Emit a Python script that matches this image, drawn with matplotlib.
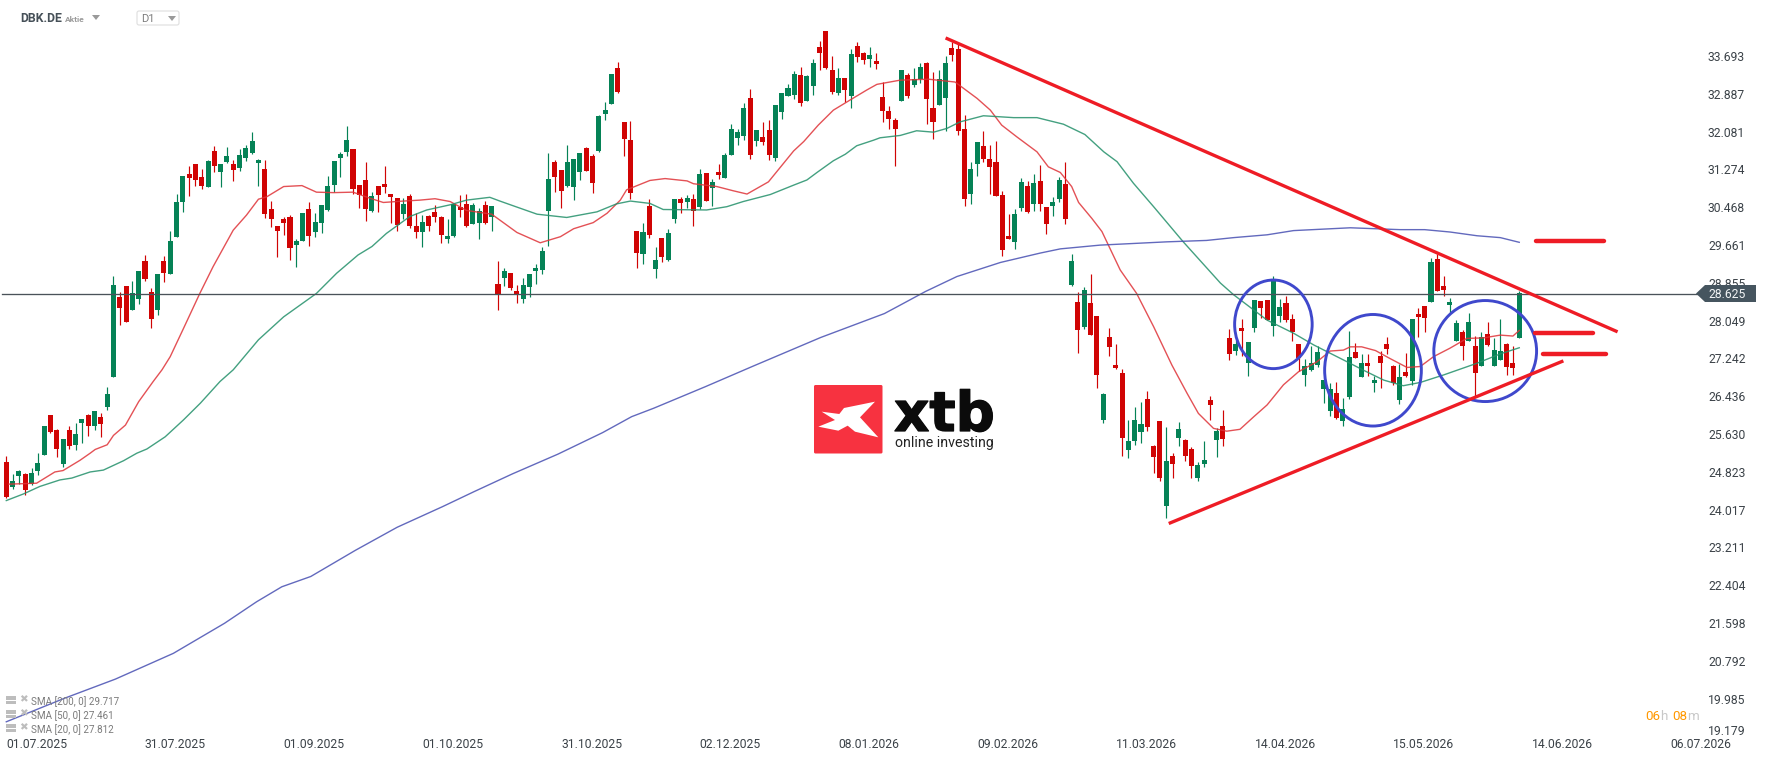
import matplotlib
matplotlib.use("Agg")
import matplotlib.pyplot as plt
import matplotlib.patheffects as pe
import numpy as np
from matplotlib.patches import Ellipse, FancyBboxPatch, Polygon, Rectangle
from matplotlib.transforms import Affine2D

plt.rcParams['font.family'] = ['Roboto', 'DejaVu Sans']

opens = [25.03, 24.50, 24.73, 24.78, 24.56, 24.84, 25.18, 26.04, 25.72, 24.99,
         25.72, 25.39, 25.86, 26.04, 25.80, 25.99, 26.21, 26.85, 28.55, 28.79,
         28.28, 28.51, 29.32, 28.66, 28.28, 29.32, 29.04, 29.83, 30.58, 31.18,
         31.39, 31.11, 30.90, 31.67, 31.22, 31.43, 31.39, 31.31, 31.52, 31.63,
         31.41, 31.28, 30.43, 30.07, 30.22, 30.26, 29.66, 29.75, 30.43, 29.94,
         30.13, 30.41, 30.94, 31.52, 31.65, 31.71, 30.94, 31.05, 30.39, 30.92,
         30.96, 30.75, 30.66, 30.32, 30.71, 30.07, 29.94, 30.28, 30.37, 30.26,
         29.79, 29.86, 30.47, 30.54, 30.11, 30.13, 30.52, 30.26, 28.83, 28.96,
         29.07, 28.68, 28.51, 28.77, 29.11, 29.13, 30.39, 31.43, 31.26, 30.92,
         30.90, 31.22, 31.73, 31.56, 31.67, 32.46, 32.67, 33.44, 32.29, 31.90,
         29.96, 29.47, 30.50, 29.15, 29.81, 29.34, 30.22, 30.64, 30.58, 30.64,
         30.47, 31.20, 30.88, 31.22, 31.09, 31.58, 31.95, 31.99, 32.80, 31.88,
         31.97, 32.12, 31.52, 32.50, 32.84, 32.86, 33.29, 32.73, 33.06, 33.89,
         34.23, 33.40, 32.91, 33.23, 32.84, 33.91, 33.76, 33.63, 33.59, 32.82,
         32.52, 32.33, 32.73, 33.29, 33.08, 33.20, 33.55, 32.59, 32.65, 32.80,
         33.87, 33.85, 32.14, 30.75, 31.39, 31.78, 31.50, 31.43, 30.73, 29.86,
         29.73, 30.45, 30.92, 30.54, 31.03, 30.47, 30.50, 30.64, 30.96, 28.81,
         28.45, 27.91, 28.42, 28.15, 25.93, 27.70, 27.10, 26.93, 25.29, 25.48,
         25.67, 26.38, 25.37, 25.91, 24.09, 25.16, 25.55, 25.50, 25.31, 24.69,
         24.99, 26.36, 25.50, 25.80, 27.68, 27.40, 27.89, 27.15, 27.89, 28.47,
         28.49, 27.94, 28.15, 28.43, 28.08, 27.55, 26.89, 27.00, 27.10, 26.59,
         26.12, 26.50, 25.91, 26.42, 27.38, 26.85, 27.15, 26.72, 27.29, 27.55,
         27.08, 26.36, 26.95, 26.76, 28.19, 28.36, 28.45, 29.36, 28.79, 28.38,
         27.62, 27.81, 27.62, 27.51, 27.08, 27.76, 27.08, 27.20, 27.55, 27.14, 27.68]
closes = [24.29, 24.63, 24.84, 24.44, 24.80, 25.01, 25.80, 25.67, 25.31, 25.52,
          25.37, 25.63, 25.95, 25.80, 26.12, 25.84, 26.48, 28.81, 28.32, 28.02,
          28.63, 29.11, 28.94, 28.08, 29.04, 29.07, 29.75, 30.58, 31.13, 31.09,
          31.05, 30.92, 31.46, 31.35, 31.39, 31.56, 31.26, 31.58, 31.73, 31.88,
          31.48, 30.32, 30.22, 29.96, 30.13, 29.60, 29.75, 30.35, 29.86, 30.15,
          30.52, 30.92, 31.46, 31.60, 31.90, 30.86, 30.73, 30.43, 30.71, 30.73,
          30.90, 30.69, 30.09, 30.54, 30.07, 29.94, 30.15, 30.07, 30.26, 29.88,
          29.86, 30.54, 30.41, 30.07, 30.52, 30.39, 30.13, 30.50, 28.60, 29.11,
          28.75, 28.60, 28.81, 29.04, 29.17, 29.53, 31.07, 31.11, 30.82, 31.43,
          31.50, 31.63, 31.24, 30.99, 32.41, 32.54, 33.31, 32.93, 31.92, 30.77,
          29.49, 29.94, 29.88, 29.34, 29.41, 29.92, 30.64, 30.56, 30.66, 30.39,
          31.18, 30.60, 31.01, 31.16, 31.58, 32.14, 32.07, 32.59, 31.58, 32.12,
          31.86, 31.58, 32.65, 32.90, 33.01, 33.31, 32.69, 33.27, 33.55, 33.76,
          33.44, 32.93, 33.23, 32.97, 33.74, 33.67, 33.61, 33.72, 33.53, 32.52,
          32.35, 32.14, 33.40, 32.84, 33.20, 33.46, 32.78, 32.29, 33.20, 33.55,
          33.72, 32.10, 30.64, 31.28, 31.86, 31.50, 31.33, 30.71, 29.56, 29.79,
          30.32, 31.01, 30.37, 30.99, 30.54, 30.11, 30.58, 31.05, 30.22, 29.32,
          27.85, 28.70, 27.74, 26.89, 26.48, 27.49, 27.04, 25.55, 25.48, 25.93,
          25.84, 25.78, 25.14, 24.69, 25.05, 24.99, 25.74, 25.16, 24.95, 24.97,
          25.08, 26.25, 25.69, 25.52, 27.34, 27.55, 27.83, 27.59, 28.49, 28.32,
          28.06, 28.94, 28.34, 28.06, 27.81, 27.25, 27.08, 27.15, 27.38, 26.78,
          26.59, 25.97, 26.16, 27.27, 27.25, 27.15, 27.08, 26.78, 27.15, 27.44,
          26.72, 26.85, 26.87, 28.08, 28.13, 28.11, 29.30, 28.68, 28.70, 28.45,
          28.00, 27.51, 28.02, 26.93, 27.70, 27.53, 27.42, 27.40, 27.07, 27.03, 28.63]
highs = [25.16, 24.78, 24.86, 24.80, 24.90, 25.23, 25.80, 26.04, 25.74, 25.52,
         25.80, 25.86, 25.95, 26.06, 26.12, 26.08, 26.63, 29.00, 28.66, 28.79,
         28.90, 29.11, 29.45, 28.75, 29.04, 29.43, 29.96, 30.75, 31.13, 31.35,
         31.39, 31.28, 31.48, 31.77, 31.39, 31.75, 31.48, 31.71, 31.80, 32.07,
         31.50, 31.48, 30.60, 30.07, 30.26, 30.30, 29.79, 30.35, 30.58, 30.35,
         30.52, 31.13, 31.46, 31.65, 32.20, 31.71, 30.94, 31.43, 30.79, 30.92,
         31.35, 30.75, 30.66, 30.66, 30.75, 30.35, 30.30, 30.30, 30.52, 30.28,
         30.22, 30.54, 30.73, 30.75, 30.56, 30.45, 30.60, 30.50, 29.32, 29.17,
         29.07, 28.81, 28.96, 29.04, 29.26, 29.62, 31.63, 31.48, 31.26, 31.80,
         31.50, 31.63, 31.75, 31.60, 32.44, 32.71, 33.31, 33.57, 32.29, 32.31,
         29.96, 30.13, 30.64, 29.62, 29.81, 30.00, 30.64, 30.69, 30.73, 30.75,
         31.28, 31.20, 31.07, 31.39, 31.63, 32.24, 32.14, 32.69, 33.00, 32.12,
         32.29, 32.33, 32.65, 32.90, 33.10, 33.38, 33.46, 33.29, 33.63, 34.02,
         34.23, 33.70, 33.44, 33.23, 33.84, 34.00, 33.78, 33.89, 33.76, 33.14,
         32.63, 32.37, 33.40, 33.33, 33.44, 33.55, 33.57, 33.35, 33.40, 33.70,
         34.00, 33.95, 32.44, 31.43, 31.86, 32.10, 31.80, 31.88, 30.81, 30.32,
         30.43, 31.09, 31.03, 31.18, 31.37, 30.47, 30.69, 31.11, 31.43, 29.47,
         28.66, 28.77, 29.04, 28.15, 26.51, 27.89, 27.55, 27.02, 25.93, 26.21,
         26.31, 26.55, 25.40, 25.91, 25.78, 25.22, 25.89, 25.52, 25.35, 25.03,
         25.48, 26.44, 25.76, 26.14, 27.87, 27.63, 28.08, 27.59, 28.49, 28.47,
         28.49, 29.00, 28.51, 28.58, 28.19, 27.55, 27.23, 27.51, 27.51, 26.78,
         26.72, 26.74, 26.40, 27.83, 27.57, 27.34, 27.34, 26.87, 27.40, 27.70,
         27.10, 27.12, 27.36, 28.08, 28.32, 28.36, 29.39, 29.47, 29.00, 28.53,
         28.06, 27.85, 28.21, 27.72, 27.81, 28.02, 27.68, 28.08, 27.57, 27.51, 28.68]
lows = [24.27, 24.46, 24.56, 24.33, 24.54, 24.75, 25.18, 25.65, 25.14, 24.93,
        25.31, 25.29, 25.44, 25.59, 25.72, 25.57, 26.14, 26.85, 27.96, 28.02,
        28.28, 28.40, 28.89, 27.89, 28.17, 28.87, 29.04, 29.83, 30.37, 30.71,
        30.92, 30.86, 30.90, 31.22, 30.90, 31.41, 31.03, 31.24, 31.46, 31.60,
        30.92, 30.24, 30.05, 29.41, 29.88, 29.34, 29.19, 29.75, 29.64, 29.83,
        29.92, 30.39, 30.79, 31.11, 31.56, 30.75, 30.45, 30.17, 30.37, 30.37,
        30.77, 30.13, 29.96, 30.22, 30.03, 29.81, 29.62, 29.96, 30.15, 29.71,
        29.71, 29.83, 30.26, 30.05, 30.11, 29.79, 30.11, 29.96, 28.28, 28.79,
        28.70, 28.43, 28.43, 28.55, 28.83, 29.04, 29.64, 30.79, 30.45, 30.90,
        30.62, 31.05, 31.24, 30.77, 31.65, 32.33, 32.67, 32.91, 31.56, 30.64,
        29.17, 29.26, 29.81, 28.96, 29.30, 29.32, 30.13, 30.35, 30.45, 30.07,
        30.43, 30.60, 30.50, 31.07, 31.09, 31.58, 31.80, 31.90, 31.50, 31.78,
        31.80, 31.48, 31.46, 32.35, 32.84, 32.78, 32.63, 32.73, 32.86, 33.40,
        33.42, 32.88, 32.86, 32.71, 32.59, 33.57, 33.53, 33.46, 33.42, 32.29,
        32.14, 31.35, 32.73, 32.80, 33.03, 33.12, 32.25, 31.92, 32.65, 32.10,
        33.59, 32.01, 30.50, 30.54, 31.13, 31.43, 30.75, 30.71, 29.43, 29.79,
        29.58, 30.39, 30.35, 30.39, 30.39, 29.90, 30.28, 30.58, 30.11, 28.79,
        27.36, 27.87, 27.74, 26.61, 25.87, 27.30, 27.02, 25.16, 25.12, 25.40,
        25.44, 25.69, 24.80, 24.63, 23.84, 24.69, 25.37, 25.05, 24.69, 24.63,
        24.93, 25.93, 25.14, 25.37, 27.21, 27.32, 27.29, 26.87, 27.81, 28.11,
        28.06, 27.72, 28.02, 28.02, 27.61, 26.97, 26.65, 26.98, 27.06, 26.29,
        26.01, 25.95, 25.80, 26.38, 27.25, 26.85, 26.87, 26.53, 26.61, 27.34,
        26.68, 26.27, 26.85, 26.68, 27.70, 27.81, 28.45, 28.68, 28.57, 28.21,
        27.62, 27.21, 27.62, 26.44, 27.08, 27.51, 27.08, 27.20, 26.89, 26.89, 27.68]

sma20_x = [0.4, 4.8, 7.7, 9, 11.7, 13.3, 14.1, 16, 17, 18.9, 21, 23.3, 24.7, 26, 28.1, 30.7, 32.8, 36, 38.1, 40,
           41.3, 44, 46.9, 49.2, 51.9, 55, 57.7, 59.8, 63, 65.6, 68, 70.4, 73, 77, 81, 84.7, 87.9, 90, 93.1, 95.3,
           97.4, 98.4, 102.1, 104.5, 108, 109, 112.7, 115.3, 117.5, 120.9, 124.9, 126.5, 128.8, 131.2, 133.9,
           136.5, 138.1, 141.8, 146.3, 150.5, 154, 156.1, 157.9, 160.3, 163.5, 165.3, 167.2, 169, 170.1, 172.2,
           173.8, 176.7, 179.3, 182, 184.9, 187.3, 189.1, 191.5, 193.6, 195.7, 197.9, 200, 202.6, 205, 207.9,
           210, 212.1, 213.2, 215, 217.2, 219.5, 222.2, 224.3, 226.4, 229, 231.7, 234.3, 237, 239, 240]
sma20_y = [24.56, 24.58, 24.82, 24.85, 25.07, 25.22, 25.30, 25.40, 25.60, 25.82, 26.32, 26.75, 27.0, 27.28, 27.88, 28.63, 29.2, 29.98, 30.30, 30.64,
           30.69, 30.91, 30.93, 30.79, 30.78, 30.79, 30.66, 30.57, 30.60, 30.62, 30.65, 30.59, 30.40, 30.32, 29.93, 29.71, 29.84, 30.01, 30.14, 30.34,
           30.62, 30.84, 31.04, 31.08, 31.03, 30.97, 30.91, 30.82, 30.75, 31.01, 31.67, 31.87, 32.22, 32.54, 32.76,
           32.97, 33.09, 33.18, 33.20, 33.14, 32.79, 32.54, 32.22, 31.97, 31.65, 31.33, 31.21, 30.91, 30.57, 30.23,
           29.95, 29.13, 28.63, 27.92, 27.10, 26.50, 26.07, 25.75, 25.69, 25.73, 26.0, 26.25, 26.68, 26.96, 27.17,
           27.40, 27.42, 27.49, 27.49, 27.41, 27.24, 27.05, 27.07, 27.28, 27.46, 27.67, 27.68, 27.74, 27.72, 27.84]

sma50_x = [0, 2.7, 5.3, 8.5, 10.4, 13.3, 15.4, 18.6, 20.7, 22.3, 25.2, 28.1, 30.8, 33.9, 36, 40, 44, 49.2, 52.4, 55.8,
           58, 60.3, 64, 66.7, 70.4, 73, 76.7, 78.3, 80.4, 84.2, 88.9, 93.7, 96.8, 99, 102.1, 104.2, 111.1, 114.3,
           116.9, 121.2, 124.9, 127, 128.6, 131.2, 133.1, 134.9, 137.6, 138.6, 141.8, 144.4, 147.1, 149.2, 151.3,
           155, 159.8, 163.5, 167.7, 171.1, 174.1, 176.2, 178.8, 182, 186.7, 192.6, 194.7, 200, 204.2, 207.4,
           212.7, 215.3, 218.5, 221.6, 224.3, 228, 233.3, 237, 240]
sma50_y = [24.21, 24.35, 24.51, 24.65, 24.69, 24.82, 24.86, 25.06, 25.22, 25.31, 25.57, 25.93, 26.29, 26.75, 27.0, 27.64, 28.13, 28.63, 29.06, 29.45,
           29.63, 29.91, 30.27, 30.41, 30.52, 30.62, 30.68, 30.60, 30.50, 30.32, 30.25, 30.37, 30.54, 30.60, 30.55, 30.42, 30.41, 30.48,
           30.59, 30.74, 30.94, 31.05, 31.21, 31.46, 31.60, 31.78, 31.90, 31.95, 32.0, 32.10, 32.07, 32.15, 32.29,
           32.42, 32.38, 32.38, 32.24, 32.02, 31.65, 31.44, 30.98, 30.48, 29.73, 28.85, 28.60, 28.06, 27.78, 27.53,
           27.17, 26.99, 26.78, 26.66, 26.73, 26.89, 27.14, 27.34, 27.47]

sma200_x = [0, 9.2, 17.3, 26.5, 34.6, 39.7, 43.7, 48.3, 55.4, 62, 69.2, 74.2, 80.3, 87.5, 94.6, 99.2, 102.7, 110.9,
            118.5, 129.2, 139.3, 141.8, 145.8, 150.8, 157.7, 164, 167.2, 173.5, 184.1, 190.4, 194.7, 200, 204.2,
            213.2, 221.1, 225, 229, 233.3, 237, 240]
sma200_y = [19.49, 19.99, 20.40, 20.95, 21.59, 22.05, 22.37, 22.59, 23.15, 23.64, 24.08, 24.40, 24.78, 25.20, 25.66, 26.0, 26.18, 26.64,
            27.08, 27.69, 28.2, 28.38, 28.67, 28.99, 29.29, 29.49, 29.58, 29.66, 29.73, 29.76, 29.82, 29.88, 29.97,
            30.03, 29.99, 29.99, 29.94, 29.86, 29.82, 29.72]

y_ticks = [33.693, 32.887, 32.081, 31.274, 30.468, 29.661, 28.855, 28.049, 27.242, 26.436,
           25.630, 24.823, 24.017, 23.211, 22.404, 21.598, 20.792, 19.985]
x_tick_bars = [0, 22, 44, 66, 88, 110, 132, 154, 176, 198, 220, 242, 264]
x_tick_labels = ['01.07.2025', '31.07.2025', '01.09.2025', '01.10.2025', '31.10.2025', '02.12.2025', '08.01.2026',
                 '09.02.2026', '11.03.2026', '14.04.2026', '15.05.2026', '14.06.2026', '06.07.2026']
last_price = 28.625
sma_legend = ['SMA [200, 0] 29.717', 'SMA [50, 0] 27.461', 'SMA [20, 0] 27.812']

# drawn on the chart by hand: (bar, price) ends
resistance = ([149.0, 255.6], [34.08, 27.81])
support = ([184.4, 247.0], [23.72, 27.19])
levels = [(242.7, 253.5, 29.74), (242.5, 251.7, 27.78), (243.7, 253.7, 27.33)]
circles = [(201.0, 27.97, 12.3, 1.89), (216.8, 26.99, 15.34, 2.38), (234.6, 27.40, 16.3, 2.155)]

GREEN = '#058256'
RED = '#d00404'
TEXT = '#3b4248'

W, H = 1768, 761
fig = plt.figure(figsize=(W / 100, H / 100), dpi=100)
ax = fig.add_axes([0, 0, 1, 1])
ax.set_xlim(-1.0, 279.46)
ax.set_ylim(18.653, 34.89)
for s in ax.spines.values():
    s.set_visible(False)
ax.set_axisbelow(True)

# pixel coords from the top left, only for the platform furniture
px = Affine2D().scale(1, -1).translate(0, H)

bars = np.arange(len(opens))
o = np.array(opens)
c = np.array(closes)
up = c >= o
colors = np.where(up, GREEN, RED)
ax.vlines(bars, lows, highs, colors=colors, linewidth=0.85, zorder=2)
ax.bar(bars, np.abs(c - o), bottom=np.minimum(o, c), width=0.8, color=colors, linewidth=0, zorder=2.1)

ax.plot(sma20_x, sma20_y, color='#df3338', lw=1.0, alpha=0.85, zorder=3)
ax.plot(sma50_x, sma50_y, color='#23906a', lw=1.0, alpha=0.85, zorder=3)
ax.plot(sma200_x, sma200_y, color='#474fb2', lw=1.0, alpha=0.85, zorder=3)

ax.axhline(last_price, xmin=2 / W, xmax=1700 / W, color='#4a5259', lw=0.95, zorder=3.2)

for cx, cy, w, h in circles:
    ax.add_patch(Ellipse((cx, cy), w, h, fill=False, ec='#3f48cc', lw=2.1, zorder=4))
ax.plot(*resistance, color='#ee1c25', lw=2.4, solid_capstyle='butt', zorder=4.1)
ax.plot(*support, color='#ee1c25', lw=2.4, solid_capstyle='butt', zorder=4.1)
for x0, x1, lev in levels:
    ax.plot([x0, x1], [lev, lev], color='#ee1c25', lw=3.2, solid_capstyle='round', zorder=4.1)

ax.set_yticks(y_ticks)
ax.set_yticklabels(['%.3f' % v for v in y_ticks])
ax.yaxis.tick_right()
ax.tick_params(axis='y', length=0, pad=-43.2, labelsize=8.7, labelcolor=TEXT)
for lab in ax.get_yticklabels():
    lab.set_ha('left')
ax.set_xticks(x_tick_bars)
ax.set_xticklabels(x_tick_labels, ha='left')
ax.tick_params(axis='x', length=0, pad=-16.3, labelsize=8.7, labelcolor=TEXT)
ax.text(1708, 731.7, '19.179', transform=px, ha='left', va='center', fontsize=8.7, color=TEXT)

# last price tag
ax.add_patch(Polygon([(1696, 293.5), (1705, 285), (1756, 285), (1756, 302), (1705, 302)],
                     closed=True, transform=px, fc='#46555f', ec='none', zorder=5))
ax.text(1708, 295, '%.3f' % last_price, transform=px, ha='left', va='center', fontsize=8.7, color='#f2f4f5', zorder=5.1)

# header
ax.text(20, 18.5, 'DBK.DE', transform=px, ha='left', va='center', fontsize=8.8, fontweight='bold', color='#465058')
ax.text(65, 19.5, 'Aktie', transform=px, ha='left', va='center', fontsize=6.0, fontweight='bold', color='#9a9a9a')
ax.add_patch(Polygon([(92, 15), (100, 15), (96, 20)], closed=True, transform=px, fc='#9a9a9a', ec='none'))
ax.add_patch(FancyBboxPatch((137, 11), 42, 14, boxstyle='round,pad=0,rounding_size=2', transform=px,
                            fc='white', ec='#dedede', lw=0.8))
ax.text(141.5, 19.5, 'D1', transform=px, ha='left', va='center', fontsize=8, color='#7d7d7d')
ax.add_patch(Polygon([(168, 16), (176, 16), (172, 21)], closed=True, transform=px, fc='#9a9a9a', ec='none'))

# indicator legend
for k, txt in enumerate(sma_legend):
    y = 701.5 + 14 * k
    ax.text(31, y, txt, transform=px, ha='left', va='center', fontsize=7.1, color='#7b7b7b', zorder=6)
    ax.add_patch(Rectangle((6, y - 6), 10, 4, transform=px, fc='#bdbdbd', ec='none', zorder=6))
    ax.add_patch(Rectangle((6, y - 1), 10, 3, transform=px, fc='#bdbdbd', ec='none', zorder=6))
    ax.text(23, y - 2, '\u2716', transform=px, ha='center', va='center', fontsize=7.5, color='#bdbdbd',
            family='DejaVu Sans', zorder=6)

# countdown
for xp, txt, col in [(1645, '06', '#ff9800'), (1660.5, 'h', '#c8c8c8'), (1672, '08', '#ff9800'), (1687.5, 'm', '#c8c8c8')]:
    ax.text(xp, 716, txt, transform=px, ha='left', va='center', fontsize=9.6, color=col)

# logo
ax.add_patch(FancyBboxPatch((814, 385), 68.5, 68.5, boxstyle='round,pad=0,rounding_size=1.5', transform=px,
                            fc='#f73240', ec='none', zorder=1))
logo_x = [125, 178, 192, 285, 240, 295, 225, 203, 175, 115, 165]
logo_y = [155, 162, 144, 125, 172, 232, 215, 197, 212, 200, 180]
ax.add_patch(Polygon([(780 + a / 3, 360 + b / 3) for a, b in zip(logo_x, logo_y)], closed=True, transform=px,
                     fc='white', ec='none', zorder=1.1))
ax.text(894, 431, 'xtb', transform=px, ha='left', va='baseline', fontsize=39.5, fontweight='bold',
        family='DejaVu Sans', color='#0b0b0b', zorder=1,
        path_effects=[pe.withStroke(linewidth=0.9, foreground='#0b0b0b')])
ax.text(895, 443.5, 'online investing', transform=px, ha='left', va='center', fontsize=10.2,
        color='#222222', zorder=1)

fig.savefig('out.png', dpi=100)
